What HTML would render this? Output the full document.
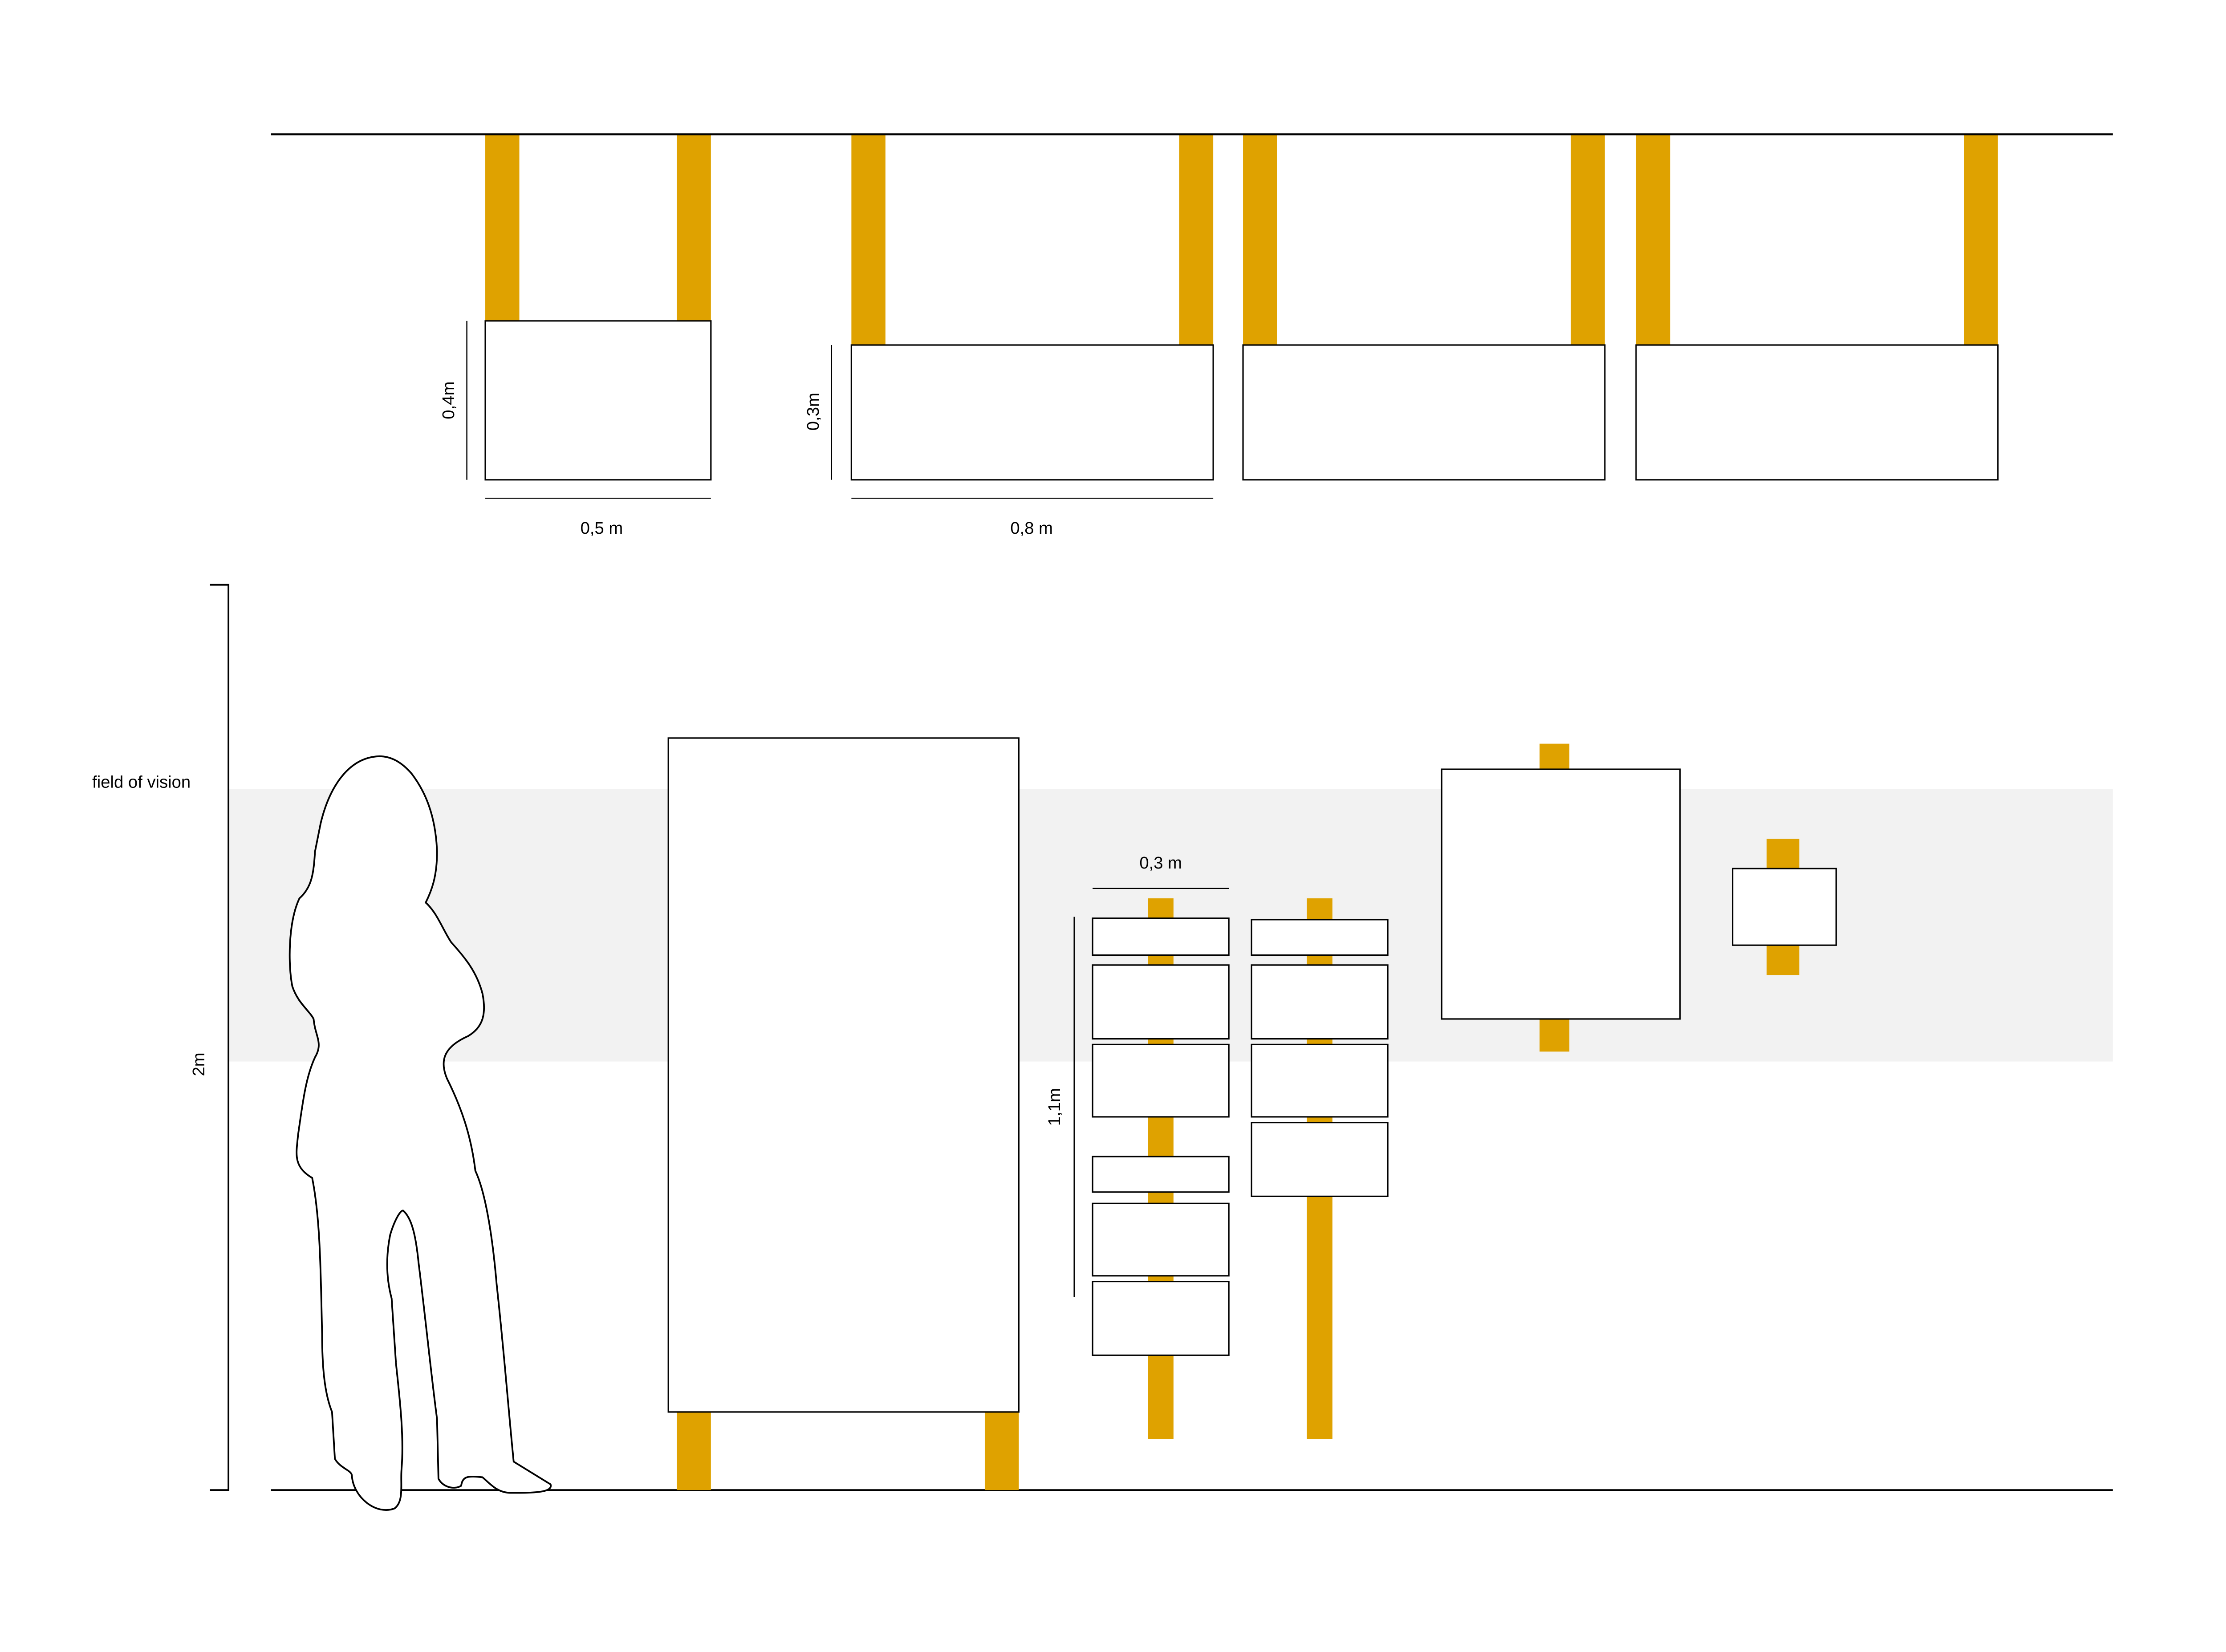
<!DOCTYPE html>
<html><head><meta charset="utf-8"><style>
html,body{margin:0;padding:0;background:#fff;}
svg{display:block;}
text{font-family:"Liberation Sans",sans-serif;font-size:12px;fill:#000;}
</style></head><body>
<svg width="5157" height="3711" viewBox="0 0 1618 1164" xmlns="http://www.w3.org/2000/svg">
<rect width="1618" height="1164" fill="#fff"/>
<g fill="#dfa200">
<rect x="342" y="95" width="24" height="131"/><rect x="477" y="95" width="24" height="131"/>
<rect x="600" y="95" width="24" height="148"/><rect x="831" y="95" width="24" height="148"/>
<rect x="876" y="95" width="24" height="148"/><rect x="1107" y="95" width="24" height="148"/>
<rect x="1153" y="95" width="24" height="148"/><rect x="1384" y="95" width="24" height="148"/>
</g>
<line x1="191" y1="94.5" x2="1489" y2="94.5" stroke="#000" stroke-width="1.5"/>
<g fill="#fff" stroke="#000" stroke-width="1">
<rect x="342" y="226" width="159" height="112"/>
<rect x="600" y="243" width="255" height="95"/>
<rect x="876" y="243" width="255" height="95"/>
<rect x="1153" y="243" width="255" height="95"/>
</g>
<g stroke="#000" stroke-width="0.8">
<line x1="329" y1="226" x2="329" y2="338"/>
<line x1="342" y1="351" x2="501" y2="351"/>
<line x1="586" y1="243" x2="586" y2="338"/>
<line x1="600" y1="351" x2="855" y2="351"/>
</g>
<text x="424" y="376" text-anchor="middle">0,5 m</text>
<text x="727" y="376" text-anchor="middle">0,8 m</text>
<text transform="translate(320,282) rotate(-90)" text-anchor="middle">0,4m</text>
<text transform="translate(577,290) rotate(-90)" text-anchor="middle">0,3m</text>
<rect x="161" y="556" width="1328" height="192" fill="#f2f2f2"/>
<g stroke="#000" stroke-width="1.2" fill="none">
<line x1="191" y1="1050" x2="1489" y2="1050"/>
<polyline points="148,412 161,412 161,1050 148,1050"/>
</g>
<text x="65" y="555">field of vision</text>
<text transform="translate(144,750) rotate(-90)" text-anchor="middle">2m</text>
<path d="M265,533 C245,535 232,555 226,580 L222,600 C221,615 220,625 211,633 C203,650 203,680 206,695 C210,707 218,712 221,718 C222,730 228,735 222,745 C215,760 213,780 210,800 C209,812 206,822 220,830 C226,860 226,900 227,940 C227,970 230,985 234,995 L236,1028 C240,1035 248,1036 248,1040 C249,1055 265,1068 278,1063 C285,1058 282,1045 283,1035 C285,1010 281,980 279,960 L276,915 C272,900 272,885 275,870 C278,860 282,853 284,853 C290,858 293,870 295,890 C300,930 304,970 308,1000 L309,1042 C312,1048 320,1050 325,1047 C326,1040 330,1040 340,1041 C345,1045 350,1052 360,1052 C375,1052 390,1052 388,1046 L362,1030 C358,990 355,950 350,905 C347,870 342,840 335,825 C332,800 325,780 315,760 C310,748 312,738 330,730 C340,724 343,715 340,700 C336,685 328,675 318,664 C312,655 308,643 300,636 C304,628 308,618 308,600 C307,575 300,558 290,545 C283,537 275,532 265,533 Z" fill="#fff" stroke="#000" stroke-width="1.2"/>
<g fill="#dfa200">
<rect x="477" y="995" width="24" height="55"/><rect x="694" y="995" width="24" height="55"/>
<rect x="809" y="633" width="18" height="381"/>
<rect x="921" y="633" width="18" height="381"/>
<rect x="1085" y="524" width="21" height="217"/>
<rect x="1245" y="591" width="23" height="96"/>
</g>
<g fill="#fff" stroke="#000" stroke-width="1">
<rect x="471" y="520" width="247" height="475"/>
<rect x="770" y="647" width="96" height="26"/>
<rect x="770" y="680" width="96" height="52"/>
<rect x="770" y="736" width="96" height="51"/>
<rect x="770" y="815" width="96" height="25"/>
<rect x="770" y="848" width="96" height="51"/>
<rect x="770" y="903" width="96" height="52"/>
<rect x="882" y="648" width="96" height="25"/>
<rect x="882" y="680" width="96" height="52"/>
<rect x="882" y="736" width="96" height="51"/>
<rect x="882" y="791" width="96" height="52"/>
<rect x="1016" y="542" width="168" height="176"/>
<rect x="1221" y="612" width="73" height="54"/>
</g>
<g stroke="#000" stroke-width="0.8">
<line x1="770" y1="626" x2="866" y2="626"/>
<line x1="757" y1="646" x2="757" y2="914"/>
</g>
<text x="818" y="612" text-anchor="middle">0,3 m</text>
<text transform="translate(747,780) rotate(-90)" text-anchor="middle">1,1m</text>
</svg>
</body></html>
